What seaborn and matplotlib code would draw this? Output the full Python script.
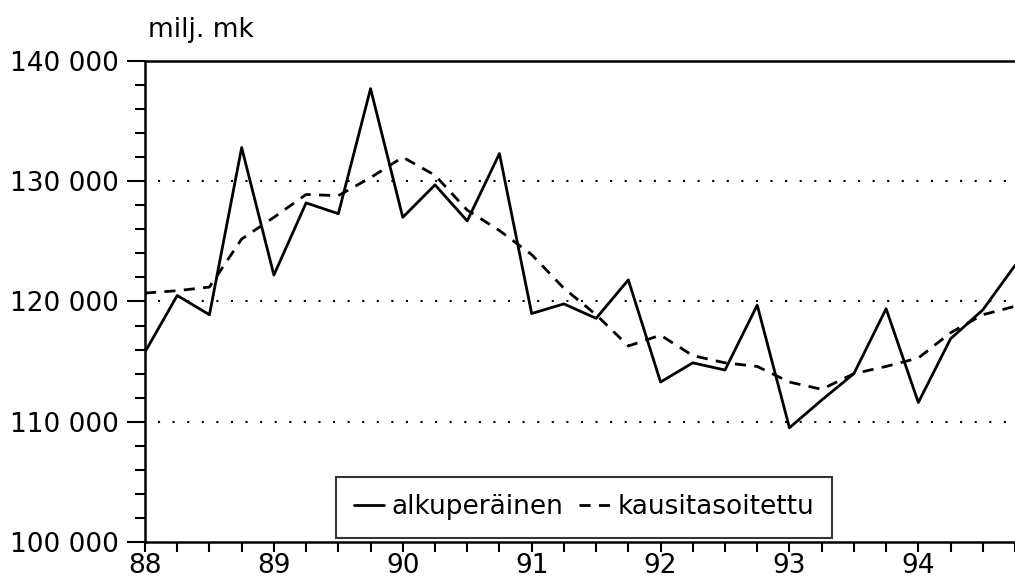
import numpy as np
import pandas as pd
import matplotlib
matplotlib.use('Agg')
import matplotlib.pyplot as plt
from matplotlib.ticker import MultipleLocator, FuncFormatter
import seaborn as sns

# quarterly observations, 1988Q1 .. 1994Q4 plotted at year + quarter offset
quarters = [88 + i * 0.25 for i in range(28)]
alkuperainen = [115800, 120500, 118900, 132800, 122200, 128200, 127300, 137700,
                127000, 129700, 126700, 132300, 119000, 119800, 118600, 121800,
                113300, 114900, 114300, 119700, 109500, 111800, 114000, 119400,
                111600, 116900, 119300, 123000]
kausitasoitettu = [120700, 120900, 121200, 125200, 127000, 128900, 128800, 130300,
                   132000, 130500, 127600, 125900, 123900, 121100, 118900, 116300,
                   117200, 115500, 114900, 114600, 113300, 112700, 114000, 114600,
                   115300, 117400, 118900, 119600]
series_names = ['alkuperäinen', 'kausitasoitettu']
year_labels = ['88', '89', '90', '91', '92', '93', '94']

df = pd.DataFrame({
    'x': quarters * 2,
    'arvo': alkuperainen + kausitasoitettu,
    'sarja': [series_names[0]] * len(quarters) + [series_names[1]] * len(quarters),
})

sns.set_style('white')
plt.rcParams['font.family'] = ['DejaVu Sans']
plt.rcParams['text.color'] = 'black'
plt.rcParams['xtick.color'] = 'black'
plt.rcParams['ytick.color'] = 'black'

fig = plt.figure(figsize=(10.15, 5.86), dpi=100)
ax = fig.add_axes([145 / 1015, 44 / 586, 870 / 1015, 481 / 586])

sns.lineplot(data=df, x='x', y='arvo', style='sarja', color='black',
             dashes={series_names[0]: '', series_names[1]: (4, 3)},
             linewidth=2.0, ax=ax, legend=True)

ax.set_xlim(88, 94.75)
ax.set_ylim(100000, 140000)

for v in (110000, 120000, 130000):
    ax.axhline(v, xmin=0.015, xmax=1, color='black', linestyle=(0, (1, 6)), linewidth=1.5)

ax.xaxis.set_major_locator(MultipleLocator(1))
ax.xaxis.set_minor_locator(MultipleLocator(0.25))
ax.yaxis.set_major_locator(MultipleLocator(10000))
ax.yaxis.set_minor_locator(MultipleLocator(2000))
ax.yaxis.set_major_formatter(FuncFormatter(lambda v, p: f'{int(v):,}'.replace(',', ' ')))
ax.set_xticks(range(88, 95))
ax.set_xticklabels(year_labels)

ax.tick_params(axis='both', which='both', direction='out', color='black', width=1.5,
               labelsize=19, labelcolor='black', bottom=True, left=True)
ax.tick_params(axis='y', which='major', length=13, pad=6)
ax.tick_params(axis='y', which='minor', length=7)
ax.tick_params(axis='x', which='both', length=7, pad=1)

for s in ('left', 'bottom', 'top'):
    ax.spines[s].set_visible(True)
    ax.spines[s].set_color('black')
    ax.spines[s].set_linewidth(1.8)
ax.spines['right'].set_visible(False)

ax.set_xlabel('')
ax.set_ylabel('')

handles, labels = ax.get_legend_handles_labels()
leg = ax.legend(handles, labels, loc='center', ncol=2,
                bbox_to_anchor=(439 / 870, 34.5 / 481),
                frameon=True, fancybox=False, edgecolor='black', fontsize=19,
                handlelength=1.15, handletextpad=0.3, columnspacing=0.6,
                borderpad=0.65, borderaxespad=0)
leg.get_frame().set_linewidth(1.5)

fig.text(148 / 1015, 1 - 30 / 586, 'milj. mk', fontsize=19, va='center', ha='left')

fig.savefig('out.png', dpi=100, facecolor='white')
